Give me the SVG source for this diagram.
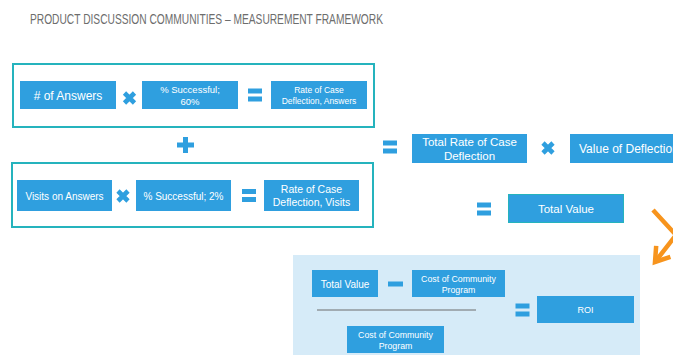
<svg xmlns="http://www.w3.org/2000/svg" width="673" height="355" viewBox="0 0 673 355">
  <style>
    .title { font-family: "Liberation Sans", Arial, sans-serif; font-size: 15px; fill: #6d6d6d; }
    .box { fill: #2f9fdf; }
    .frame { fill: none; stroke: #25b3bd; stroke-width: 2; }
    .lbl { font-family: "Liberation Sans", Arial, sans-serif; fill: #ffffff; text-anchor: middle; }
    .op { fill: #2f9fdf; }
    .arrow { fill: none; stroke: #f7941d; stroke-width: 4.5; }
  </style>
  <defs>
    <g id="times">
      <path d="M-5,-5 L5,5 M-5,5 L5,-5" stroke="#2f9fdf" stroke-width="4.6" fill="none"/>
    </g>
    <g id="equals" class="op">
      <rect x="-7" y="-6.5" width="14" height="5"/>
      <rect x="-7" y="1.5" width="14" height="5"/>
    </g>
    <marker id="chev" viewBox="0 0 10 10" refX="7" refY="5" markerWidth="5" markerHeight="5" orient="auto" markerUnits="strokeWidth">
      <path d="M1,1 L7,5 L1,9" fill="none" stroke="#f7941d" stroke-width="2"/>
    </marker>
  </defs>

  <text class="title" x="30" y="24" textLength="353" lengthAdjust="spacingAndGlyphs">PRODUCT DISCUSSION COMMUNITIES – MEASUREMENT FRAMEWORK</text>

  <!-- answers row -->
  <g id="answers-frame"><rect class="frame" x="13" y="64" width="361" height="63"/></g>
  <g id="num-answers">
    <rect class="box" x="20" y="81" width="96" height="28"/>
    <text class="lbl" x="68" y="99.5" font-size="12">#  of Answers</text>
  </g>
  <use href="#times" x="129.5" y="98"/>
  <g id="pct-60">
    <rect class="box" x="142" y="81" width="96" height="28"/>
    <text class="lbl" x="190" y="93" font-size="9.5">% Successful;</text>
    <text class="lbl" x="190" y="104.5" font-size="9.5">60%</text>
  </g>
  <use href="#equals" x="255" y="95"/>
  <g id="rate-answers">
    <rect class="box" x="271" y="81" width="96" height="28"/>
    <text class="lbl" x="319" y="93" font-size="8.5">Rate of Case</text>
    <text class="lbl" x="319" y="103.5" font-size="8.5">Deflection, Answers</text>
  </g>

  <!-- plus -->
  <g id="plus" class="op">
    <rect x="177" y="142.5" width="17" height="5"/>
    <rect x="183" y="137" width="5" height="16"/>
  </g>

  <!-- visits row -->
  <g id="visits-frame"><rect class="frame" x="12" y="163" width="361" height="64"/></g>
  <g id="visits">
    <rect class="box" x="17" y="180" width="95" height="31"/>
    <text class="lbl" x="64.5" y="199.5" font-size="10">Visits on Answers</text>
  </g>
  <use href="#times" x="123" y="196"/>
  <g id="pct-2">
    <rect class="box" x="136" y="180" width="95" height="31"/>
    <text class="lbl" x="183.5" y="199.5" font-size="10">% Successful; 2%</text>
  </g>
  <use href="#equals" x="249" y="195.5"/>
  <g id="rate-visits">
    <rect class="box" x="264" y="180" width="95" height="31"/>
    <text class="lbl" x="311.5" y="193" font-size="10.5">Rate of Case</text>
    <text class="lbl" x="311.5" y="206" font-size="10.5">Deflection, Visits</text>
  </g>

  <!-- totals -->
  <use href="#equals" x="390" y="147"/>
  <g id="total-rate">
    <rect class="box" x="412" y="134" width="115" height="29"/>
    <text class="lbl" x="469.5" y="146" font-size="11.5">Total Rate of Case</text>
    <text class="lbl" x="469.5" y="159.5" font-size="11.5">Deflection</text>
  </g>
  <use href="#times" x="548" y="148"/>
  <g id="value-deflection">
    <rect class="box" x="570" y="134" width="110" height="29"/>
    <text class="lbl" x="579" y="152.5" font-size="12" style="text-anchor:start">Value of Deflection</text>
  </g>
  <use href="#equals" x="484" y="209"/>
  <g id="total-value">
    <rect class="box" x="508.5" y="194.5" width="115" height="28" stroke="#25b3bd" stroke-width="1"/>
    <text class="lbl" x="566" y="213" font-size="11.5">Total Value</text>
  </g>

  <g id="connectors">
    <polyline class="arrow" points="653,210 676,235 655,262" marker-end="url(#chev)"/>
  </g>

  <!-- ROI panel -->
  <g id="roi-panel">
    <rect x="293" y="255" width="347" height="100" fill="#d6ebf8"/>
    <line x1="317" y1="310" x2="476" y2="310" stroke="#6d6d6d" stroke-width="1"/>
  </g>
  <g id="roi-total-value">
    <rect class="box" x="312" y="270" width="66" height="27"/>
    <text class="lbl" x="345" y="288" font-size="10">Total Value</text>
  </g>
  <rect class="op" x="388" y="281.5" width="15" height="5"/>
  <g id="roi-cost-top">
    <rect class="box" x="412" y="270" width="93" height="27"/>
    <text class="lbl" x="458.5" y="282" font-size="8.8">Cost of Community</text>
    <text class="lbl" x="458.5" y="293" font-size="8.8">Program</text>
  </g>
  <g id="roi-cost-bottom">
    <rect class="box" x="347" y="326" width="97" height="27"/>
    <text class="lbl" x="395.5" y="337.5" font-size="8.8">Cost of Community</text>
    <text class="lbl" x="395.5" y="348.5" font-size="8.8">Program</text>
  </g>
  <use href="#equals" x="522.5" y="310"/>
  <g id="roi">
    <rect class="box" x="537" y="296" width="97" height="27"/>
    <text class="lbl" x="585.5" y="313" font-size="9">ROI</text>
  </g>
</svg>
